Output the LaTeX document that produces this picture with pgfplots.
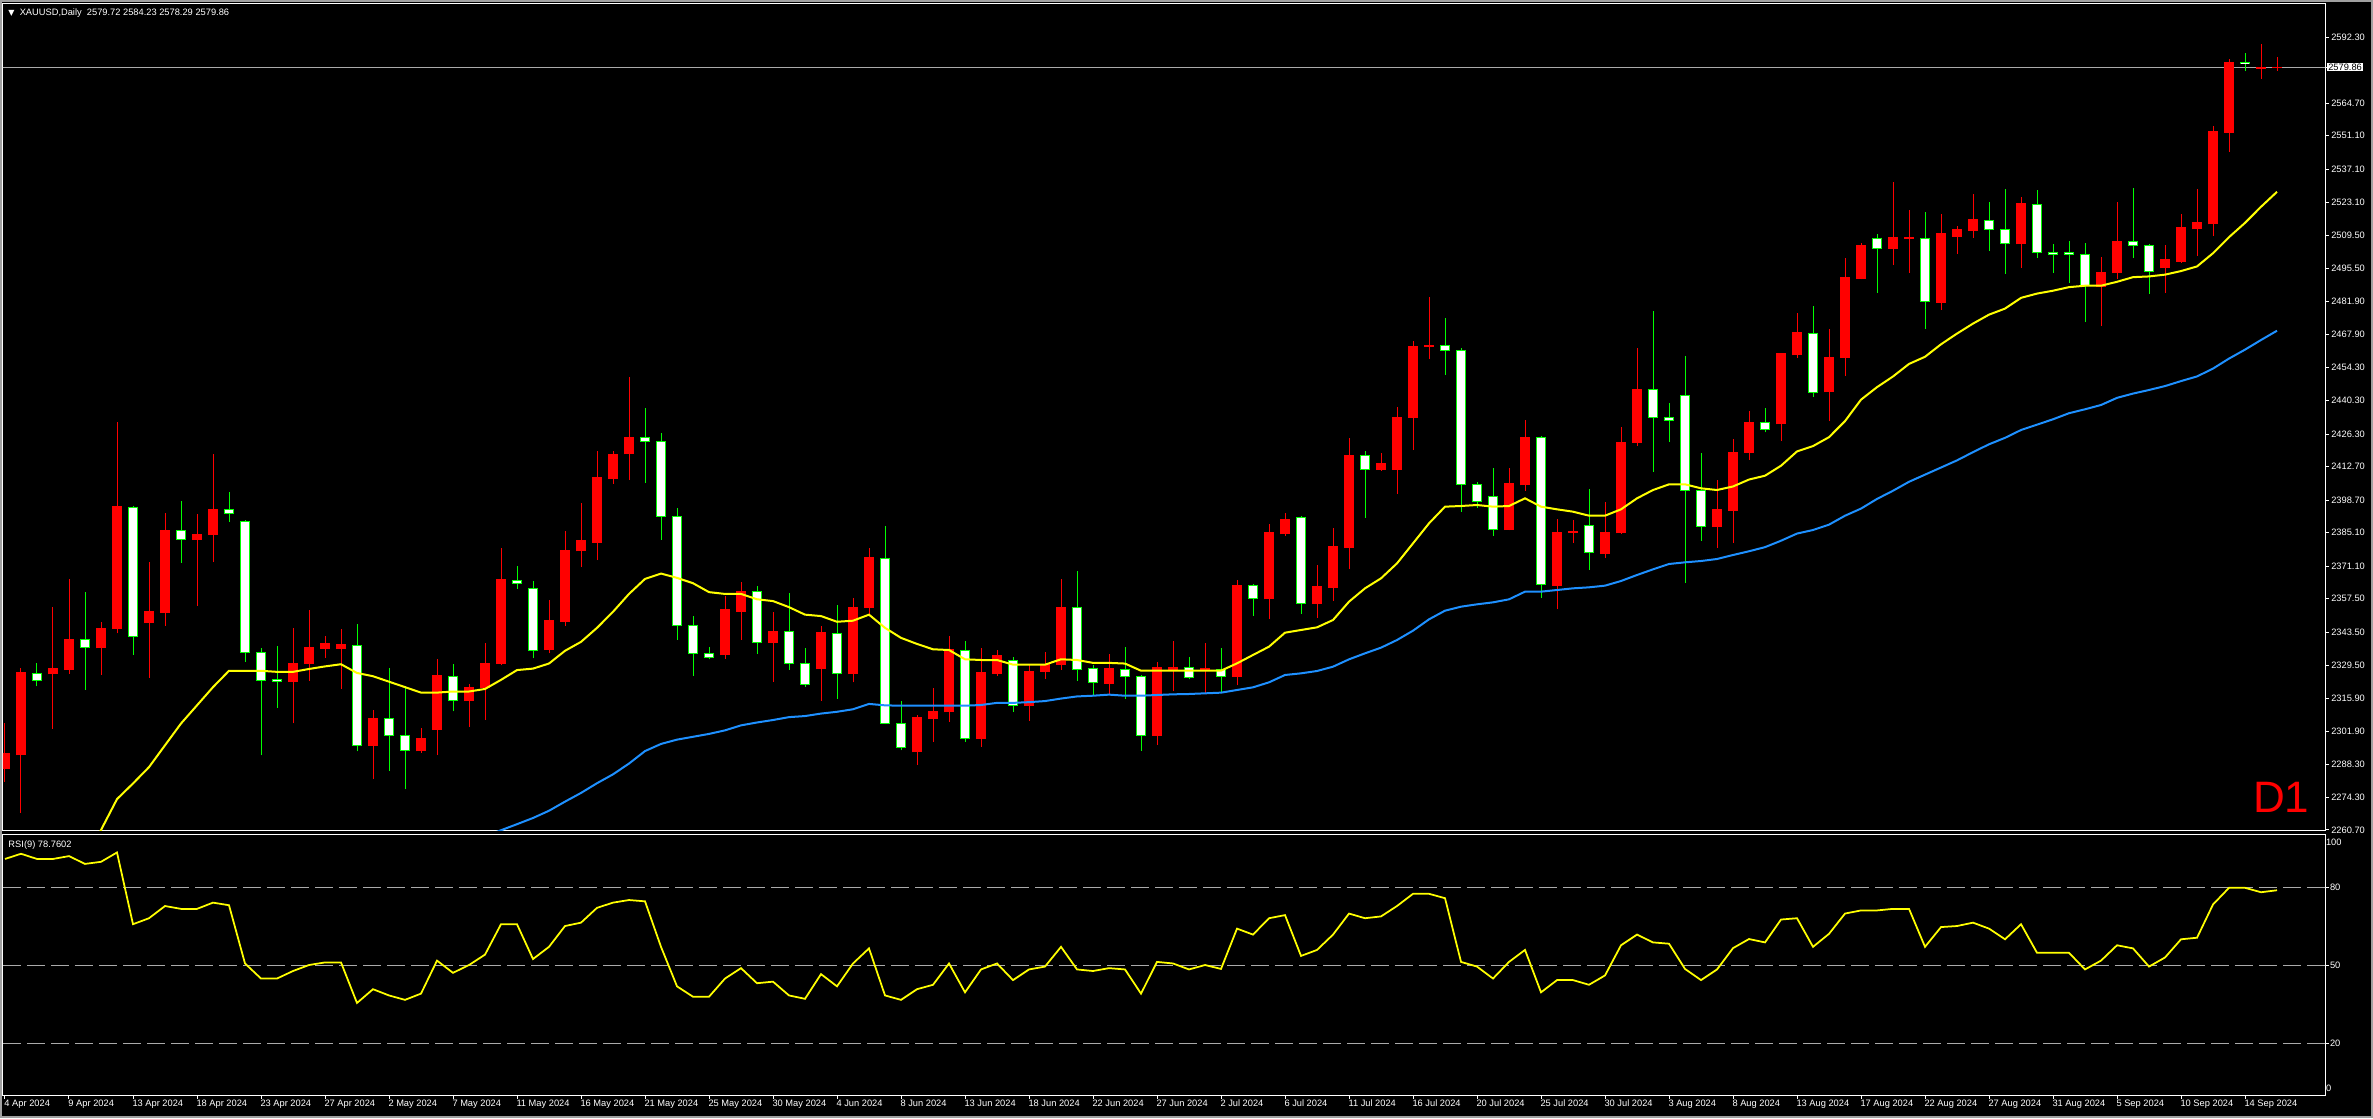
\documentclass[border=0pt]{standalone}
\usepackage{fontspec}
\setmainfont{Liberation Sans}
\newfontfamily\djv{DejaVu Sans}
\usepackage{pgfplots}
\usepackage{pgfplotstable}
\pgfplotsset{compat=1.18}

\definecolor{mtred}{RGB}{255,0,0}
\definecolor{mtgreen}{RGB}{0,255,0}
\definecolor{mtyellow}{RGB}{255,255,0}
\definecolor{mtblue}{RGB}{30,144,255}
\definecolor{mtgrid}{RGB}{170,170,170}
\definecolor{mtframe}{RGB}{160,160,160}
\newcommand\lbl{\fontsize{3.72pt}{4.4pt}\selectfont}

% bullish candles (drawn red)
\pgfplotstableread{
x O H L C
0 2286.55 2305.25 2280.92 2292.63
1 2292.17 2328.52 2267.99 2326.39
3 2326.09 2353.91 2302.97 2328.06
4 2327.76 2365.62 2326.09 2340.53
6 2336.88 2347.68 2325.63 2344.79
7 2344.94 2431.32 2342.96 2395.88
9 2347.38 2372.77 2324.41 2351.94
10 2351.63 2393.30 2346.16 2386.15
12 2382.20 2392.84 2354.52 2384.18
13 2384.33 2417.93 2372.77 2394.97
18 2322.74 2345.25 2305.25 2330.49
19 2330.34 2352.70 2323.20 2337.19
20 2336.58 2341.90 2332.78 2338.55
21 2336.58 2344.79 2319.85 2338.10
23 2295.98 2310.88 2281.98 2307.53
26 2293.85 2303.43 2293.09 2299.17
27 2302.67 2332.17 2292.02 2325.17
29 2314.83 2321.98 2303.88 2320.46
30 2320.15 2338.86 2306.92 2330.49
31 2330.34 2378.70 2329.58 2365.32
34 2336.12 2356.95 2334.60 2348.13
35 2347.83 2385.85 2346.16 2377.79
36 2377.48 2397.56 2370.64 2381.59
37 2381.11 2419.21 2373.64 2408.01
38 2407.71 2419.21 2405.47 2417.57
39 2418.02 2450.14 2407.11 2425.04
45 2334.05 2358.70 2332.41 2352.73
46 2352.28 2364.38 2340.33 2360.50
48 2339.13 2351.83 2322.70 2343.76
51 2328.07 2346.00 2314.78 2343.17
53 2326.13 2357.81 2322.40 2353.92
54 2353.77 2378.72 2350.49 2374.54
57 2293.42 2308.66 2288.04 2307.61
58 2307.31 2320.16 2297.60 2310.45
59 2310.15 2341.82 2305.97 2336.00
61 2298.94 2336.89 2295.51 2326.43
62 2326.13 2336.00 2325.09 2333.90
64 2312.69 2329.57 2306.41 2327.18
65 2327.03 2335.10 2324.04 2329.87
66 2329.87 2365.73 2327.78 2353.92
69 2321.95 2334.35 2317.62 2328.07
72 2300.14 2330.92 2296.40 2328.82
73 2327.90 2339.76 2318.84 2328.88
75 2327.63 2338.92 2317.86 2328.05
77 2324.84 2365.27 2321.21 2363.18
79 2357.33 2388.70 2349.10 2384.94
80 2384.52 2393.30 2383.68 2390.79
82 2355.37 2371.55 2349.52 2362.35
83 2362.07 2387.17 2356.63 2379.08
84 2378.80 2424.68 2370.02 2417.56
86 2411.43 2418.54 2411.00 2413.80
87 2411.43 2437.64 2401.39 2433.46
88 2433.18 2465.39 2419.80 2463.16
89 2462.88 2483.66 2457.86 2463.44
94 2386.33 2412.13 2386.05 2405.85
95 2405.02 2432.21 2402.64 2424.68
97 2363.18 2390.79 2353.14 2385.35
98 2385.07 2390.37 2380.89 2385.49
100 2376.57 2397.90 2374.62 2385.35
101 2384.94 2429.28 2384.50 2423.00
102 2423.00 2462.32 2421.47 2445.17
107 2387.58 2407.11 2378.80 2394.56
108 2394.26 2424.29 2380.96 2418.76
109 2418.61 2435.79 2415.62 2431.31
111 2430.56 2460.44 2423.39 2459.84
112 2459.40 2477.03 2458.20 2468.66
114 2444.01 2470.30 2431.76 2458.50
115 2458.35 2500.03 2450.58 2491.67
116 2491.37 2506.16 2491.07 2505.41
118 2503.92 2531.71 2497.04 2508.40
119 2508.10 2520.05 2493.76 2508.40
121 2481.51 2518.26 2478.37 2510.04
122 2509.14 2513.48 2501.68 2511.69
123 2511.39 2526.78 2508.40 2515.87
126 2505.86 2525.43 2495.85 2522.59
131 2488.08 2500.48 2471.50 2494.06
132 2493.76 2523.34 2491.22 2507.06
135 2495.85 2505.41 2485.39 2499.14
136 2498.54 2518.26 2498.00 2512.58
137 2512.13 2528.87 2500.78 2514.67
138 2514.22 2555.16 2509.14 2553.07
139 2552.62 2583.25 2544.40 2581.90
141 2579.36 2589.52 2574.88 2579.81
142 2579.72 2584.23 2578.29 2579.86
}\bull

% bearish candles (white body, green outline)
\pgfplotstableread{
x O H L C
2 2326.24 2330.65 2320.76 2323.35
5 2340.38 2360.30 2319.39 2337.03
8 2395.73 2396.20 2333.99 2341.75
11 2386.00 2398.32 2372.47 2382.35
14 2394.82 2402.12 2389.65 2393.15
15 2389.80 2390.30 2331.10 2334.90
16 2335.05 2336.88 2291.87 2323.35
17 2323.50 2337.64 2311.94 2322.89
22 2337.95 2346.92 2293.54 2296.13
24 2307.38 2328.52 2285.48 2300.38
25 2300.38 2320.91 2277.73 2294.00
28 2325.02 2330.19 2310.27 2314.98
32 2365.16 2371.10 2361.67 2363.95
33 2361.82 2364.86 2332.47 2335.82
40 2424.89 2437.29 2406.06 2423.24
41 2423.24 2426.83 2382.16 2391.87
42 2391.87 2395.46 2340.33 2346.30
43 2346.30 2350.19 2325.24 2334.65
44 2334.65 2337.19 2332.11 2333.01
47 2360.50 2362.74 2334.50 2339.28
49 2343.76 2359.90 2327.78 2330.32
50 2330.32 2336.89 2320.61 2321.65
52 2343.02 2354.82 2315.68 2326.28
55 2374.39 2387.84 2304.92 2305.37
56 2305.37 2314.63 2294.01 2295.36
60 2335.85 2339.73 2297.60 2299.09
63 2331.51 2333.01 2310.15 2312.84
67 2353.92 2369.01 2323.14 2327.93
68 2328.38 2329.87 2316.57 2322.55
70 2327.93 2337.19 2315.68 2324.94
71 2324.94 2325.40 2293.86 2300.29
74 2328.74 2333.20 2323.72 2324.56
76 2327.90 2336.97 2318.56 2324.84
78 2363.04 2363.50 2350.35 2357.47
81 2391.49 2391.90 2351.19 2355.51
85 2417.42 2419.24 2391.35 2411.57
90 2463.44 2474.87 2451.17 2461.35
91 2461.35 2462.19 2393.86 2405.29
92 2405.29 2406.27 2395.53 2398.04
93 2400.27 2412.13 2383.82 2386.47
96 2424.96 2425.40 2357.89 2363.46
99 2388.14 2403.34 2369.60 2376.71
103 2445.03 2477.80 2410.59 2433.18
104 2433.18 2439.32 2423.14 2432.07
105 2442.52 2458.98 2364.16 2402.92
106 2402.92 2418.40 2381.73 2387.72
110 2431.16 2437.28 2426.98 2428.32
113 2468.51 2479.86 2441.92 2443.86
117 2508.25 2510.04 2485.54 2504.07
120 2508.25 2519.16 2470.30 2481.81
124 2515.72 2523.34 2503.02 2511.99
125 2511.99 2528.87 2493.31 2506.01
127 2522.44 2528.42 2500.03 2502.27
128 2502.27 2505.86 2493.76 2501.53
129 2502.27 2507.06 2489.57 2501.53
130 2501.53 2506.31 2473.14 2488.38
133 2506.91 2529.32 2500.03 2505.11
134 2505.26 2505.86 2484.94 2494.21
140 2581.75 2585.79 2578.17 2581.31
}\bear

% yellow moving average
\pgfplotstableread{
x y
4 2236
5 2248
6 2260.69
7 2273.62
8 2280.16
9 2287.00
10 2296.13
11 2305.25
12 2312.85
13 2320.46
14 2327.30
15 2327.30
16 2327.30
17 2326.85
18 2326.85
19 2328.06
20 2329.13
21 2330.04
22 2326.39
23 2325.02
24 2322.74
25 2320.46
26 2318.17
27 2318.17
28 2318.63
29 2318.63
30 2319.70
31 2323.50
32 2327.60
33 2328.21
34 2330.34
35 2335.66
36 2339.40
37 2345.26
38 2351.98
39 2359.45
40 2365.73
41 2367.97
42 2366.17
43 2363.93
44 2360.20
45 2359.45
46 2359.45
47 2357.21
48 2356.46
49 2353.92
50 2350.78
51 2350.19
52 2347.80
53 2348.25
54 2350.78
55 2345.26
56 2341.07
57 2338.53
58 2336.29
59 2335.99
60 2332.11
61 2331.81
62 2331.81
63 2329.87
64 2329.87
65 2329.87
66 2332.11
67 2331.81
68 2330.61
69 2330.61
70 2330.32
71 2327.33
72 2327.35
73 2327.35
74 2327.35
75 2327.35
76 2327.35
77 2330.41
78 2333.92
79 2337.39
80 2343.24
81 2344.36
82 2345.47
83 2348.54
84 2356.21
85 2361.79
86 2365.97
87 2372.25
88 2380.61
89 2388.98
90 2395.95
91 2396.23
92 2396.65
93 2395.95
94 2396.23
95 2399.44
96 2395.95
97 2394.84
98 2393.86
99 2392.19
100 2392.19
101 2394.84
102 2399.44
103 2402.92
104 2405.29
105 2405.29
106 2403.62
107 2402.92
108 2404.40
109 2407.30
110 2408.90
111 2413.08
112 2419.06
113 2421.30
114 2425.03
115 2431.76
116 2440.72
117 2445.95
118 2450.43
119 2455.66
120 2458.65
121 2463.88
122 2468.36
123 2472.54
124 2476.28
125 2478.81
126 2483.30
127 2485.09
128 2486.29
129 2487.78
130 2488.38
131 2488.38
132 2490.02
133 2491.96
134 2492.26
135 2493.01
136 2494.51
137 2496.45
138 2501.98
139 2508.70
140 2514.67
141 2521.40
142 2527.67
}\maf

% blue moving average
\pgfplotstableread{
x y
29 2255.5
30 2258.0
31 2260.6
32 2263.13
33 2265.72
34 2268.75
35 2272.56
36 2276.20
37 2280.27
38 2283.98
39 2288.49
40 2293.71
41 2296.70
42 2298.50
43 2299.69
44 2300.89
45 2302.38
46 2304.47
47 2305.67
48 2306.71
49 2307.91
50 2308.36
51 2309.40
52 2310.15
53 2311.20
54 2313.44
55 2312.84
56 2312.69
57 2312.69
58 2312.69
59 2312.69
60 2312.69
61 2312.99
62 2313.88
63 2313.88
64 2314.18
65 2314.63
66 2315.68
67 2316.57
68 2316.87
69 2317.32
70 2316.87
71 2316.87
72 2317.17
73 2317.45
74 2317.59
75 2317.87
76 2318.15
77 2319.26
78 2320.38
79 2322.47
80 2325.54
81 2326.23
82 2327.21
83 2329.02
84 2332.09
85 2334.60
86 2336.97
87 2340.17
88 2344.08
89 2348.82
90 2352.45
91 2354.12
92 2355.10
93 2355.93
94 2357.19
95 2360.40
96 2360.40
97 2361.09
98 2361.79
99 2362.21
100 2362.91
101 2364.86
102 2367.37
103 2369.74
104 2371.97
105 2372.67
106 2373.22
107 2374.06
108 2375.73
109 2377.30
110 2379.02
111 2381.71
112 2384.70
113 2386.19
114 2388.43
115 2392.17
116 2395.15
117 2399.19
118 2402.62
119 2406.36
120 2409.35
121 2412.33
122 2415.32
123 2418.76
124 2422.05
125 2424.74
126 2428.02
127 2430.26
128 2432.51
129 2435.05
130 2436.69
131 2438.48
132 2441.47
133 2443.26
134 2444.76
135 2446.40
136 2448.49
137 2450.43
138 2453.72
139 2457.90
140 2461.64
141 2465.67
142 2469.56
}\mas

% RSI(9)
\pgfplotstableread{
x r
0 90.8
1 92.8
2 90.8
3 90.8
4 91.9
5 88.9
6 89.7
7 93.3
8 65.7
9 68
10 72.7
11 71.6
12 71.6
13 74
14 73
15 50.6
16 44.8
17 44.8
18 47.7
19 50
20 51
21 51
22 35.4
23 40.7
24 38.3
25 36.6
26 39
27 51.7
28 47
29 50
30 54
31 65.7
32 65.7
33 52.3
34 57
35 65
36 66.3
37 72
38 74
39 75
40 74.5
41 57
42 41.8
43 37.8
44 37.8
45 44.8
46 48.8
47 43
48 43.6
49 38.3
50 37
51 46.5
52 41.8
53 50.6
54 56.4
55 38.3
56 36.6
57 40.7
58 42.4
59 50.6
60 39.5
61 48.3
62 50.6
63 44.2
64 48.3
65 49.4
66 57
67 48.3
68 47.7
69 48.8
70 48.3
71 39
72 51.2
73 50.6
74 48.3
75 50
76 48.5
77 64
78 61.7
79 68
80 69.2
81 53.5
82 55.8
83 61.7
84 69.8
85 68
86 68.7
87 72.7
88 77.4
89 77.4
90 75.7
91 51.2
92 49.4
93 44.8
94 51.2
95 55.8
96 39.5
97 44.2
98 44.2
99 42.4
100 46
101 57.6
102 61.7
103 58.7
104 58.2
105 48.5
106 44.2
107 48.3
108 56.5
109 60
110 58.7
111 67.5
112 68
113 57
114 62
115 69.8
116 71
117 71
118 71.6
119 71.6
120 57
121 64.6
122 65
123 66.3
124 64
125 59.9
126 65.7
127 54.7
128 54.7
129 54.7
130 48.3
131 51.7
132 57.6
133 56.4
134 49.4
135 52.9
136 59.9
137 60.5
138 73.3
139 79.7
140 79.7
141 78
142 78.76
}\rsi

\begin{document}
\begin{tikzpicture}
\fill[black] (0,0) rectangle (949.2pt,447.2pt);
\draw[mtframe, line width=0.8pt] (0.4pt,0.4pt) rectangle (948.8pt,446.8pt);

% price panel
\begin{axis}[
  at={(1.2pt,114.8pt)}, anchor=south west,
  scale only axis, width=928.8pt, height=330.8pt,
  xmin=-0.125, xmax=145, ymin=2260.28, ymax=2606.23,
  axis line style={white, line width=0.4pt},
  xtick=\empty,
  ytick={2260.7,2274.3,2288.3,2301.9,2315.9,2329.5,2343.5,2357.5,2371.1,2385.1,2398.7,2412.7,2426.3,2440.3,2454.3,2467.9,2481.9,2495.5,2509.5,2523.1,2537.1,2551.1,2564.7,2592.3},
  yticklabels={2260.70,2274.30,2288.30,2301.90,2315.90,2329.50,2343.50,2357.50,2371.10,2385.10,2398.70,2412.70,2426.30,2440.30,2454.30,2467.90,2481.90,2495.50,2509.50,2523.10,2537.10,2551.10,2564.70,2592.30},
  ytick pos=right, yticklabel pos=right,
  tick align=outside, major tick length=1.6pt,
  tick style={white, line width=0.4pt},
  yticklabel style={font=\lbl, text=white, anchor=west, inner sep=0pt, xshift=0.7pt},
  /pgf/number format/assume math mode=true,
  extra y ticks={2579.86}, extra y tick labels={2579.86},
  extra y tick style={yticklabel style={fill=white, text=black, inner sep=0.4pt, xshift=-1.6pt}},
]
\addplot [mtgrid, line width=0.4pt] coordinates {(-1,2579.86) (146,2579.86)};
% wicks
\addplot [mtred, line width=0.4pt, quiver={u=0, v=\thisrow{H}-\thisrow{L}}] table [x=x, y=L] {\bull};
\addplot [mtgreen, line width=0.4pt, quiver={u=0, v=\thisrow{H}-\thisrow{L}}] table [x=x, y=L] {\bear};
% bodies
\addplot [mtred, line width=4.2pt, quiver={u=0, v=\thisrow{C}-\thisrow{O}+0.42}] table [x=x, y expr=\thisrow{O}-0.21] {\bull};
\addplot [mtgreen, line width=4.2pt, quiver={u=0, v=\thisrow{C}-\thisrow{O}-0.42}] table [x=x, y expr=\thisrow{O}+0.21] {\bear};
\addplot [white, line width=3.4pt, quiver={u=0, v=\thisrow{C}-\thisrow{O}+0.42}] table [x=x, y expr=\thisrow{O}-0.21] {\bear};
% moving averages
\addplot [mtyellow, line width=0.8pt] table [x=x, y=y] {\maf};
\addplot [mtblue, line width=0.8pt] table [x=x, y=y] {\mas};
\node [anchor=base east, text=mtred, inner sep=0pt, font=\fontsize{17.6pt}{20pt}\selectfont] at (axis description cs:0.9935,0.0224) {D1};
\end{axis}

% RSI panel
\begin{axis}[
  at={(1.2pt,9.2pt)}, anchor=south west,
  scale only axis, width=928.8pt, height=104.4pt,
  xmin=-0.125, xmax=145, ymin=0, ymax=100.4,
  axis line style={white, line width=0.4pt},
  xtick={0,4,...,140},
  xticklabels={4 Apr 2024,9 Apr 2024,13 Apr 2024,18 Apr 2024,23 Apr 2024,27 Apr 2024,2 May 2024,7 May 2024,11 May 2024,16 May 2024,21 May 2024,25 May 2024,30 May 2024,4 Jun 2024,8 Jun 2024,13 Jun 2024,18 Jun 2024,22 Jun 2024,27 Jun 2024,2 Jul 2024,6 Jul 2024,11 Jul 2024,16 Jul 2024,20 Jul 2024,25 Jul 2024,30 Jul 2024,3 Aug 2024,8 Aug 2024,13 Aug 2024,17 Aug 2024,22 Aug 2024,27 Aug 2024,31 Aug 2024,5 Sep 2024,10 Sep 2024,14 Sep 2024},
  xtick pos=left, xticklabel pos=left,
  ytick={20,50,80}, yticklabels={20,50,80},
  ytick pos=right, yticklabel pos=right,
  ymajorgrids, major grid style={mtgrid, line width=0.4pt, dash pattern=on 7.2pt off 2.4pt},
  tick align=outside, major tick length=1.6pt,
  tick style={white, line width=0.4pt},
  xticklabel style={font=\lbl, text=white, anchor=north west, inner sep=0pt, xshift=-0.4pt},
  yticklabel style={font=\lbl, text=white, anchor=west, inner sep=0pt, xshift=0.2pt},
  /pgf/number format/assume math mode=true,
  extra y ticks={2.6,97.4}, extra y tick labels={0,100},
  extra y tick style={ymajorgrids=false, major tick length=0pt},
]
\addplot [mtyellow, line width=0.7pt] table [x=x, y=r] {\rsi};
\end{axis}

% captions
\node [anchor=base west, inner sep=0pt, text=white, font=\lbl] at (7.7pt,440.8pt) {XAUUSD,Daily\ \ 2579.72 2584.23 2578.29 2579.86};
\node [anchor=center, inner sep=0pt, text=white, font=\djv\fontsize{3.2pt}{4pt}\selectfont] at (4.6pt,441.9pt) {▼};
\node [anchor=base west, inner sep=0pt, text=white, font=\lbl] at (3.2pt,108.2pt) {RSI(9) 78.7602};
\end{tikzpicture}
\end{document}
